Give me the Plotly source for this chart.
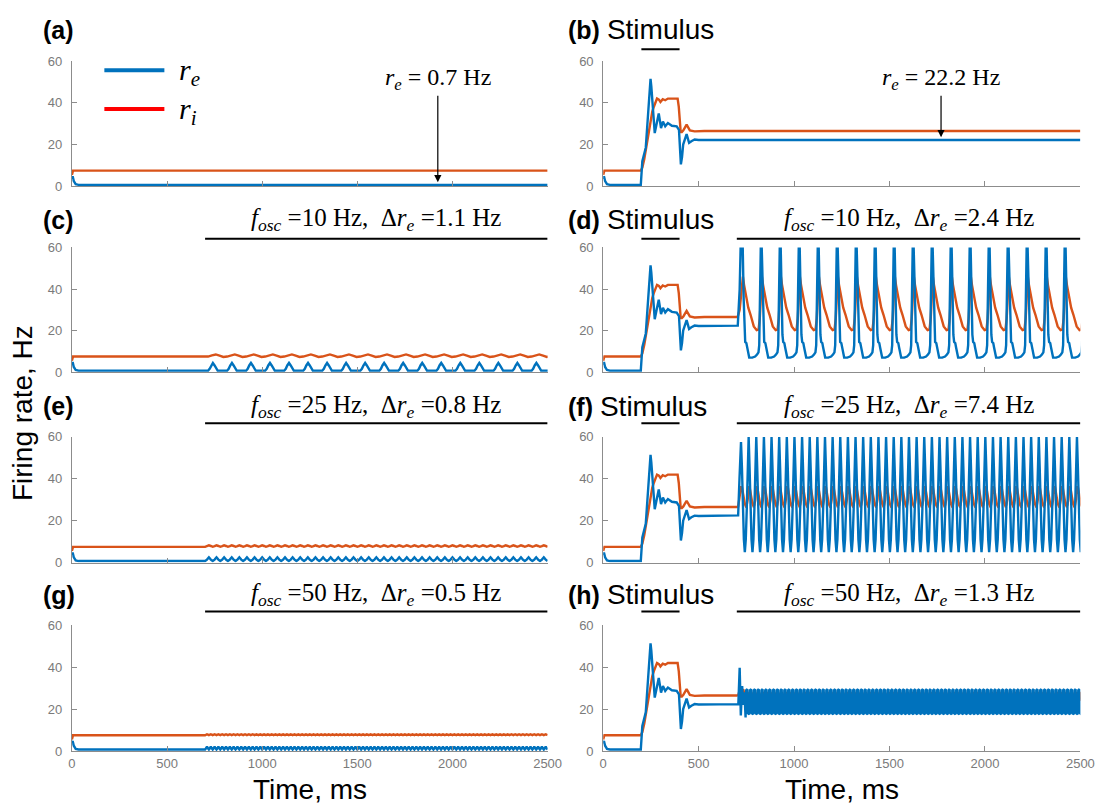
import plotly.graph_objects as go

W, H = 1118, 811
T_END = 2500
BLUE = "#0072BD"
ORANGE = "#D95319"

# ---------------- data (ms, Hz) ----------------
# baseline without stimulus, 0-700 ms
base_re_t = [0, 4, 10, 20, 35, 700]
base_re = [3.5, 4.8, 2.5, 1.0, 0.7, 0.7]
base_ri_t = [0, 6, 700]
base_ri = [5.5, 7.5, 7.5]

# with stimulus (200-400 ms), 0-700 ms
stim_re_t = [0, 4, 10, 20, 35, 197, 205, 215, 223, 236, 248, 252, 262, 270, 280, 291, 303, 313,
             325, 339, 360, 385, 397, 402, 407, 413, 419, 437, 450, 462, 479, 500, 700]
stim_re = [3.5, 4.8, 2.5, 1.0, 0.7, 0.7, 12, 16, 18.5, 35.7, 51.4, 48, 32.6, 25.5, 30, 34.9, 27.9, 31,
           28.7, 30.3, 29, 28.7, 27, 18, 10.5, 14, 20, 25, 20.8, 21.6, 22.4, 22.2, 22.2]
stim_ri_t = [0, 6, 197, 205, 215, 231, 245, 257, 265, 282, 292, 300, 312, 325, 339, 390, 396, 402,
             406, 412, 420, 437, 454, 479, 530, 700]
stim_ri = [5.5, 7.5, 7.5, 9, 13, 21.6, 30, 35.7, 38, 42, 41.5, 40.4, 41.7, 41.2, 42, 42, 38, 30,
           26, 26, 26.8, 29.5, 26.8, 26.3, 26.5, 26.5]

# (c) 10 Hz, no stimulus: one cycle
c_on_t = [716]
c_on_re = [0.7]
c_on_ri = [7.5]
c_t0, c_period = 716, 100
c_re_phase = [8, 16, 25, 34, 42, 50, 100]
c_re_cycle = [1.6, 3.2, 4.4, 3.2, 1.6, 0.7, 0.7]
c_ri_phase = [20, 40, 60, 80, 100]
c_ri_cycle = [8.1, 8.5, 7.9, 7.3, 7.5]

# (e) 25 Hz, no stimulus
e_t0, e_period = 700, 40
e_re_phase = [10, 20, 30, 40]
e_re_cycle = [1.4, 2.5, 1.4, 0.7]
e_ri_phase = [10, 20, 30, 40]
e_ri_cycle = [7.8, 8.2, 7.9, 7.5]

# (g) 50 Hz, no stimulus
g_t0, g_period = 700, 20
g_re_phase = [5, 10, 15, 20]
g_re_cycle = [1.3, 2.1, 1.3, 0.7]
g_ri_phase = [10, 20]
g_ri_cycle = [8.0, 7.6]

# (d) 10 Hz after stimulus
d_on_t = [705, 715, 720, 726]
d_on_re = [22.4, 40, 60, 60]
d_on_ri = [26.7, 30, 36, 40]
d_t0, d_period = 726, 99.5
d_re_phase = [5, 10, 14, 18, 24, 28, 33, 39, 55, 70, 80, 87.5, 91.5, 94.5, 96.5, 99.5]
d_re_cycle = [60, 35, 18, 14.5, 14, 12, 8.5, 7, 7, 7.5, 8.5, 9.5, 13, 45, 60, 60]
d_ri_phase = [6, 12, 22, 34, 46, 63, 78, 88, 94.5, 99.5]
d_ri_cycle = [46, 42, 36, 31, 27.6, 22, 20.2, 20.5, 26, 40]

# (f) 25 Hz after stimulus
f_on_t = [707, 714, 722]
f_on_re = [22.5, 40, 57.5]
f_on_ri = [26.8, 31, 36]
f_t0, f_period = 722, 40
f_re_phase = [5, 10, 15, 20, 25, 30, 35, 40]
f_re_cycle = [45, 25, 11, 5, 11, 25, 45, 60]
f_ri_phase = [5, 10, 15, 20, 25, 30, 35, 40]
f_ri_cycle = [36, 33, 30, 28, 27, 27.5, 30, 36]

# (h) 50 Hz after stimulus
h_on_t = [708, 715, 721, 728, 734, 740, 746]
h_on_re = [22.4, 39.7, 17, 31, 22, 28, 16]
h_on_ri = [26.7, 29, 29.5, 28, 29.5, 27, 24]
h_t0, h_period = 746, 20
h_re_phase = [3, 9, 13, 19, 20]
h_re_cycle = [29, 29.5, 18, 17.5, 17.5]
h_ri_phase = [5, 10, 15, 20]
h_ri_cycle = [25, 28, 27, 24]


def build(pre_t, pre_v, on_t=(), on_v=(), t0=None, period=None, phase=(), cycle=()):
    t = list(pre_t) + list(on_t)
    v = list(pre_v) + list(on_v)
    if t0 is None:
        t.append(T_END)
        v.append(v[-1])
        return t, v
    k = 0
    while t0 + k * period < T_END:
        start = t0 + k * period
        for p, val in zip(phase, cycle):
            t.append(start + p)
            v.append(val)
        k += 1
    return t, v


panels = {
    "a": (build(base_re_t, base_re), build(base_ri_t, base_ri)),
    "b": (build(stim_re_t, stim_re), build(stim_ri_t, stim_ri)),
    "c": (build(base_re_t, base_re, c_on_t, c_on_re, c_t0, c_period, c_re_phase, c_re_cycle),
          build(base_ri_t, base_ri, c_on_t, c_on_ri, c_t0, c_period, c_ri_phase, c_ri_cycle)),
    "d": (build(stim_re_t, stim_re, d_on_t, d_on_re, d_t0, d_period, d_re_phase, d_re_cycle),
          build(stim_ri_t, stim_ri, d_on_t, d_on_ri, d_t0, d_period, d_ri_phase, d_ri_cycle)),
    "e": (build(base_re_t, base_re, [], [], e_t0, e_period, e_re_phase, e_re_cycle),
          build(base_ri_t, base_ri, [], [], e_t0, e_period, e_ri_phase, e_ri_cycle)),
    "f": (build(stim_re_t, stim_re, f_on_t, f_on_re, f_t0, f_period, f_re_phase, f_re_cycle),
          build(stim_ri_t, stim_ri, f_on_t, f_on_ri, f_t0, f_period, f_ri_phase, f_ri_cycle)),
    "g": (build(base_re_t, base_re, [], [], g_t0, g_period, g_re_phase, g_re_cycle),
          build(base_ri_t, base_ri, [], [], g_t0, g_period, g_ri_phase, g_ri_cycle)),
    "h": (build(stim_re_t, stim_re, h_on_t, h_on_re, h_t0, h_period, h_re_phase, h_re_cycle),
          build(stim_ri_t, stim_ri, h_on_t, h_on_ri, h_t0, h_period, h_ri_phase, h_ri_cycle)),
}

panel_order = ["a", "b", "c", "d", "e", "f", "g", "h"]
x_ticks = [0, 500, 1000, 1500, 2000, 2500]
y_ticks = [0, 20, 40, 60]
stim_on, stim_off = 200, 400
osc_on = 700
osc_text = {
    "c": ("10", "1.1"), "d": ("10", "2.4"),
    "e": ("25", "0.8"), "f": ("25", "7.4"),
    "g": ("50", "0.5"), "h": ("50", "1.3"),
}
re_values = {"a": (1923, 2.0, "0.7"), "b": (1770, 23.5, "22.2")}

# ---------------- layout geometry (pixels) ----------------
def px(x):
    return x / W


def py(y):
    return 1 - y / H


col_x = [(69, 552.5), (609, 1094)]
row_y = [(55, 182.7), (245, 372), (438, 566), (630, 758)]
bar_y = [43, 236, 424, 616]
text_y = [23, 217, 407, 599]

AX_COL = "#8c8c8c"
TICK_FONT = dict(family="Liberation Sans, Arial", size=13, color="#7a7a7a")
SANS = "Liberation Sans, Arial"
SERIF = "Liberation Serif, Times New Roman"

fig = go.Figure()
layout = dict(
    width=W, height=H, margin=dict(l=0, r=0, t=0, b=0),
    paper_bgcolor="white", plot_bgcolor="white", showlegend=False,
)
shapes, annotations = [], []

for i, key in enumerate(panel_order):
    row, col = divmod(i, 2)
    n = i + 1
    xa = "xaxis" if n == 1 else f"xaxis{n}"
    ya = "yaxis" if n == 1 else f"yaxis{n}"
    xr = "x" if n == 1 else f"x{n}"
    yr = "y" if n == 1 else f"y{n}"
    (te, ve), (ti, vi) = panels[key]
    fig.add_trace(go.Scatter(x=ti, y=vi, mode="lines", line=dict(color=ORANGE, width=2.4),
                             xaxis=xr, yaxis=yr, name="r_i"))
    fig.add_trace(go.Scatter(x=te, y=ve, mode="lines", line=dict(color=BLUE, width=2.4),
                             xaxis=xr, yaxis=yr, name="r_e"))
    x0, x1 = col_x[col]
    ytop, ybot = row_y[row]
    layout[xa] = dict(domain=[px(x0), px(x1)], range=[0, T_END], anchor=yr,
                      showline=True, linecolor=AX_COL, linewidth=1, ticks="inside", ticklen=5,
                      tickcolor=AX_COL, tickvals=x_ticks, showticklabels=(row == 3),
                      tickfont=TICK_FONT, showgrid=False, zeroline=False)
    layout[ya] = dict(domain=[py(ybot), py(ytop)], range=[0, 60], anchor=xr,
                      showline=True, linecolor=AX_COL, linewidth=1, ticks="inside", ticklen=5,
                      tickcolor=AX_COL, tickvals=y_ticks, tickfont=TICK_FONT,
                      ticklabelstandoff=6, showgrid=False, zeroline=False)

    # panel label
    lab_x = 38 if col == 0 else 571
    lab = f"<b>({key})</b>" + (" <span style='font-size:28px'>Stimulus</span>" if col == 1 else "")
    annotations.append(dict(text=lab, x=px(lab_x), y=py(text_y[row]), xref="paper", yref="paper",
                            xanchor="left", yanchor="middle", showarrow=False,
                            font=dict(family=SANS, size=25, color="black")))
    # stimulus bar
    if col == 1:
        shapes.append(dict(type="line", xref=xr, yref="paper", x0=stim_on, x1=stim_off,
                           y0=py(bar_y[row]), y1=py(bar_y[row]), line=dict(color="black", width=2)))
    # oscillation bar + text
    if key in osc_text:
        f, dr = osc_text[key]
        shapes.append(dict(type="line", xref=xr, yref="paper", x0=osc_on, x1=T_END,
                           y0=py(bar_y[row]), y1=py(bar_y[row]), line=dict(color="black", width=2)))
        txt = (f"<i>f</i><sub><i>osc</i></sub> ={f} Hz,  "
               f"\u0394<i>r</i><sub><i>e</i></sub> ={dr} Hz")
        annotations.append(dict(text=txt, x=(osc_on + T_END) / 2, xref=xr, y=py(text_y[row]),
                                yref="paper", xanchor="center", yanchor="middle", showarrow=False,
                                font=dict(family=SERIF, size=25, color="black")))
    # steady-state value arrows
    if key in re_values:
        ax_t, ay_v, val = re_values[key]
        annotations.append(dict(text=f"<i>r</i><sub><i>e</i></sub> = {val} Hz", x=ax_t, y=ay_v,
                                xref=xr, yref=yr, showarrow=True, arrowhead=2, arrowsize=1.2,
                                arrowwidth=1.2, arrowcolor="black", ax=0,
                                ay=(75 - 178) if key == "a" else (75 - 133),
                                font=dict(family=SERIF, size=24, color="black")))

# legend (panel a)
for yy, colr, sub in [(64.5, BLUE, "e"), (104, "#FF0000", "i")]:
    shapes.append(dict(type="line", xref="paper", yref="paper", x0=px(102), x1=px(163),
                       y0=py(yy), y1=py(yy), line=dict(color=colr, width=4)))
    annotations.append(dict(text=f"<i>r</i><sub><i>{sub}</i></sub>", x=px(176), y=py(yy + 2),
                            xref="paper", yref="paper", xanchor="left", yanchor="middle",
                            showarrow=False, font=dict(family=SERIF, size=30, color="black")))

# axis titles
for cx in [(col_x[0][0] + col_x[0][1]) / 2, (col_x[1][0] + col_x[1][1]) / 2]:
    annotations.append(dict(text="Time, ms", x=px(cx), y=py(797), xref="paper", yref="paper",
                            xanchor="center", yanchor="middle", showarrow=False,
                            font=dict(family=SANS, size=28, color="black")))
annotations.append(dict(text="Firing rate, Hz", x=px(19), y=py(414), xref="paper", yref="paper",
                        xanchor="center", yanchor="middle", showarrow=False, textangle=-90,
                        font=dict(family=SANS, size=28, color="black")))

layout["shapes"] = shapes
layout["annotations"] = annotations
fig.update_layout(**layout)
fig.write_html("out.html", config={"displayModeBar": False})
